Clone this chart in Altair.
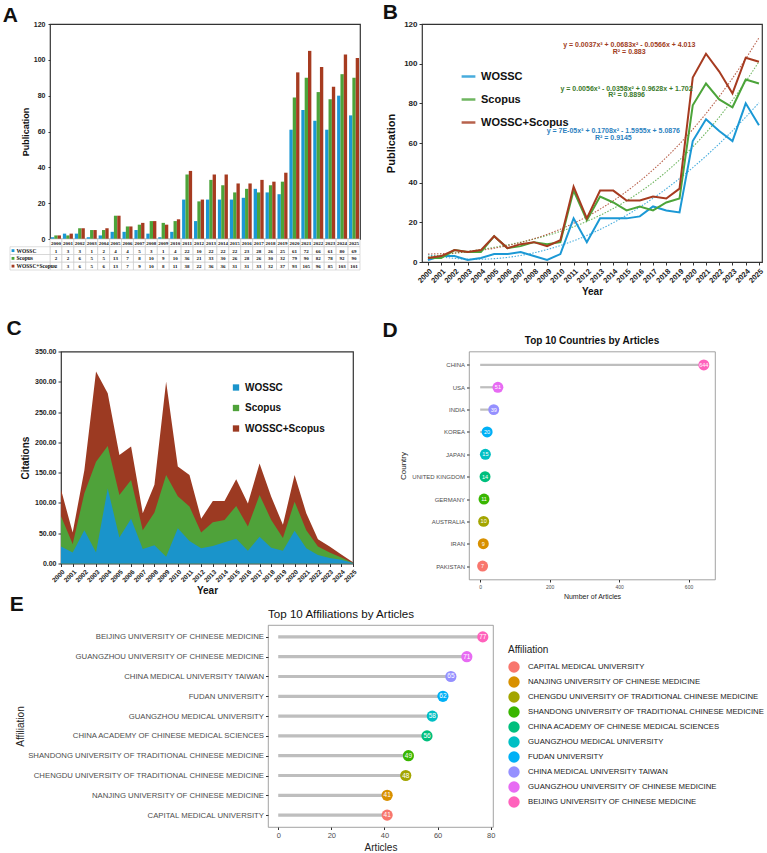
import altair as alt
import pandas as pd

FONT = "Liberation Sans"
SERIF = "Liberation Serif"

# ---------------- data ----------------
years = list(range(2000, 2026))
series_names = ["WOSSC", "Scopus", "WOSSC+Scopus"]
series_colors = ["#1b98d5", "#4ca43a", "#a63b20"]
area_colors = ["#1a94cb", "#4fa23a", "#9c3a22"]

pub_wossc = [1, 3, 3, 1, 2, 4, 4, 5, 3, 1, 4, 22, 10, 22, 22, 22, 23, 28, 26, 25, 61, 72, 66, 61, 80, 69]
pub_scopus = [2, 2, 6, 5, 5, 13, 7, 8, 10, 9, 10, 36, 21, 33, 30, 26, 28, 26, 30, 32, 79, 90, 82, 78, 92, 90]
pub_combined = [2, 3, 6, 5, 6, 13, 7, 9, 10, 8, 11, 38, 22, 36, 36, 31, 31, 33, 32, 37, 93, 105, 96, 85, 103, 101]

cit_wossc = [28, 18, 55, 18, 124, 43, 74, 24, 30, 11, 58, 37, 25, 29, 35, 41, 21, 44, 26, 21, 54, 25, 14, 9, 6, 1]
cit_scopus = [78, 32, 116, 168, 194, 113, 138, 55, 84, 146, 111, 94, 51, 68, 72, 95, 61, 113, 72, 42, 102, 55, 28, 18, 10, 1]
cit_combined = [122, 51, 154, 317, 281, 179, 193, 83, 130, 300, 160, 146, 74, 103, 103, 139, 99, 165, 110, 64, 146, 83, 40, 28, 15, 2]

countries = ["CHINA", "USA", "INDIA", "KOREA", "JAPAN", "UNITED KINGDOM",
             "GERMANY", "AUSTRALIA", "IRAN", "PAKISTAN"]
country_articles = [644, 51, 39, 20, 15, 14, 11, 10, 9, 7]

affiliations = ["BEIJING UNIVERSITY OF CHINESE MEDICINE",
                "GUANGZHOU UNIVERSITY OF CHINESE MEDICINE",
                "CHINA MEDICAL UNIVERSITY TAIWAN",
                "FUDAN UNIVERSITY",
                "GUANGZHOU MEDICAL UNIVERSITY",
                "CHINA ACADEMY OF CHINESE MEDICAL SCIENCES",
                "SHANDONG UNIVERSITY OF TRADITIONAL CHINESE MEDICINE",
                "CHENGDU UNIVERSITY OF TRADITIONAL CHINESE MEDICINE",
                "NANJING UNIVERSITY OF CHINESE MEDICINE",
                "CAPITAL MEDICAL UNIVERSITY"]
affiliation_articles = [77, 71, 65, 62, 58, 56, 49, 48, 41, 41]

# ggplot hue palette, from smallest to largest category
hue10 = ["#F8766D", "#D89000", "#A3A500", "#39B600", "#00BF7D",
         "#00BFC4", "#00B0F6", "#9590FF", "#E76BF3", "#FF62BC"]

eq_lines = ["y = 0.0037x³ + 0.0683x² - 0.0566x + 4.013", "R² = 0.883",
            "y = 0.0056x³ - 0.0358x² + 0.9628x + 1.702", "R² = 0.8896",
            "y = 7E-05x³ + 0.1708x² - 1.5955x + 5.0876", "R² = 0.9145"]
eq_year = [2015.2, 2015.2, 2015.0, 2015.0, 2014.0, 2014.0]
eq_value = [109.5, 105.8, 87.4, 84.2, 65.8, 62.4]
eq_colors = ["#a03c22", "#a03c22", "#3b7a2c", "#3b7a2c", "#2b7fc0", "#2b7fc0"]

# ---------------- tables ----------------
pub_rows = []
for s, vals in zip(series_names, [pub_wossc, pub_scopus, pub_combined]):
    for y, v in zip(years, vals):
        pub_rows.append({"year": y, "series": s, "value": v})
pub_df = pd.DataFrame(pub_rows)

cit_rows = []
for s, vals in zip(series_names, [cit_wossc, cit_scopus, cit_combined]):
    for y, v in zip(years, vals):
        cit_rows.append({"year": y, "series": s, "value": v})
cit_df = pd.DataFrame(cit_rows)

table_rows = ["year"] + series_names
tab = []
for i, y in enumerate(years):
    tab.append({"row": "year", "year": y, "txt": str(y)})
    for s, vals in zip(series_names, [pub_wossc, pub_scopus, pub_combined]):
        tab.append({"row": s, "year": y, "txt": str(vals[i])})
table_df = pd.DataFrame(tab)
key_df = pd.DataFrame({"row": series_names, "series": series_names})

country_df = pd.DataFrame({"country": countries, "articles": country_articles})
aff_df = pd.DataFrame({"affiliation": affiliations, "articles": affiliation_articles})
eq_df = pd.DataFrame({"year": eq_year, "value": eq_value, "txt": eq_lines, "c": eq_colors})


def letter(t, dx=0, dy=0):
    return alt.TitleParams(t, anchor="start", font=FONT, fontSize=21, fontWeight="bold",
                           color="#111111", dx=dx, dy=dy, offset=0)


def spacer(w):
    # invisible anchor that fixes where a row starts
    return alt.Chart(pd.DataFrame({"v": [0]})).mark_point(size=0, opacity=0).encode(
        x=alt.value(0), y=alt.value(0)).properties(
        width=w, height=1, view=alt.ViewBackground(fill="white", stroke=None))


# ---------------- panel A ----------------
color_A = alt.Scale(domain=series_names, range=series_colors)
barsA = alt.Chart(pub_df).mark_bar().encode(
    x=alt.X("year:O", axis=None, scale=alt.Scale(paddingInner=0.16, paddingOuter=0.08)),
    xOffset=alt.XOffset("series:N", sort=series_names, scale=alt.Scale(domain=series_names)),
    y=alt.Y("value:Q", scale=alt.Scale(domain=[0, 120], nice=False),
            axis=alt.Axis(values=list(range(0, 121, 20)), grid=False, domain=False,
                          tickSize=2, tickColor="#333", labelFont=FONT, labelFontWeight="bold",
                          labelFontSize=7, labelPadding=3, labelColor="#222",
                          title="Publication", titleFont=FONT, titleFontSize=9,
                          titleFontWeight="bold", titlePadding=3, titleColor="#111")),
    color=alt.Color("series:N", scale=color_A, legend=None),
).properties(width=310, height=215, view=alt.ViewBackground(stroke="#333", strokeWidth=1.2))

xT = alt.X("year:O", axis=None, scale=alt.Scale(paddingInner=0, paddingOuter=0))
yT = alt.Y("row:N", sort=table_rows, scale=alt.Scale(paddingInner=0, paddingOuter=0),
           axis=alt.Axis(title=None, domain=False, ticks=False, tickSize=0, labelAlign="left",
                         labelPadding=34, labelFont=SERIF, labelFontSize=5.5,
                         labelFontWeight="bold", labelColor="#111",
                         labelExpr="datum.value == 'year' ? '' : datum.value"))
cells = alt.Chart(table_df).mark_rect(fill="white", stroke="#c8c8c8", strokeWidth=0.6).encode(x=xT, y=yT)
cell_txt = alt.Chart(table_df).mark_text(font=SERIF, fontSize=5, fontWeight="bold", color="#111").encode(
    x=xT, y=yT, text="txt:N")
key_cells = alt.Chart(key_df).mark_rect(fill="white", stroke="#c8c8c8", strokeWidth=0.6).encode(
    x=alt.value(-40), x2=alt.value(0), y=yT)
key_sq = alt.Chart(key_df).mark_square(size=8, opacity=1).encode(
    x=alt.value(-37), y=yT, color=alt.Color("series:N", scale=color_A, legend=None))
tableA = alt.layer(cells, key_cells, cell_txt, key_sq).properties(
    width=310, height=31, view=alt.ViewBackground(stroke=None))

A = alt.vconcat(barsA, tableA, spacing=0, bounds="flush").properties(
    title=letter("A", dx=-7, dy=7)).resolve_scale(color="independent")

# ---------------- panel B ----------------
xB = alt.X("year:Q", scale=alt.Scale(domain=[1999.55, 2025.23], nice=False, zero=False),
           axis=alt.Axis(values=years, format="d", labelAngle=-45, labelFont=FONT,
                         labelFontWeight="bold", labelFontSize=7.5, labelColor="#222",
                         grid=False, domain=False, tickSize=3, tickColor="#333",
                         title="Year", titleFont=FONT, titleFontSize=10, titleFontWeight="bold",
                         titleColor="#111", titlePadding=2, labelOverlap=False))
yB = alt.Y("value:Q", scale=alt.Scale(domain=[0, 120], nice=False),
           axis=alt.Axis(values=list(range(0, 121, 20)), grid=False, domain=False, tickSize=3,
                         tickColor="#333", labelFont=FONT, labelFontWeight="bold", labelFontSize=8,
                         labelColor="#222", title="Publication", titleFont=FONT, titleFontSize=11,
                         titleFontWeight="bold", titleColor="#111", titlePadding=7))
color_B = alt.Scale(domain=series_names, range=series_colors)
trendB = alt.Chart(pub_df).transform_calculate(t="datum.year - 1999").transform_regression(
    "t", "value", method="poly", order=3, groupby=["series"]
).transform_calculate(year="datum.t + 1999").mark_line(
    strokeWidth=1.1, strokeDash=[1.5, 1.5], opacity=0.8).encode(
    x=xB, y=yB, color=alt.Color("series:N", scale=color_B))
linesB = alt.Chart(pub_df).mark_line(strokeWidth=2).encode(
    x=xB, y=yB,
    color=alt.Color("series:N", scale=color_B, sort=series_names,
                    legend=alt.Legend(orient="none", legendX=38, legendY=44, title=None,
                                      symbolType="stroke", symbolStrokeWidth=2.5, symbolSize=190,
                                      labelFont=FONT, labelFontSize=11, labelFontWeight="bold",
                                      labelColor="#111", rowPadding=9)))
eq_layers = []
for c in ["#a03c22", "#3b7a2c", "#2b7fc0"]:
    eq_layers.append(alt.Chart(eq_df).transform_filter(alt.datum.c == c).mark_text(
        font=FONT, fontSize=7, fontWeight="bold", color=c).encode(x=xB, y=yB, text="txt:N"))
B = alt.layer(trendB, linesB, *eq_layers).properties(
    width=340, height=238, title=letter("B", dx=-3, dy=2.5),
    view=alt.ViewBackground(stroke="#333", strokeWidth=1.2))

# ---------------- panel C ----------------
xC = alt.X("year:Q", scale=alt.Scale(domain=[2000, 2025], nice=False, zero=False),
           axis=alt.Axis(values=years, format="d", labelAngle=-45, labelFont=FONT,
                         labelFontWeight="bold", labelFontSize=6.5, labelColor="#222",
                         grid=False, domain=False, tickSize=3, tickColor="#333",
                         title="Year", titleFont=FONT, titleFontSize=10, titleFontWeight="bold",
                         titleColor="#111", titlePadding=2, labelOverlap=False))
yC = alt.Y("value:Q", stack=None, scale=alt.Scale(domain=[0, 350], nice=False),
           axis=alt.Axis(values=list(range(0, 351, 50)), format=".2f", grid=False, domain=False,
                         tickSize=3, tickColor="#333", labelFont=FONT, labelFontWeight="bold",
                         labelFontSize=7, labelColor="#222", title="Citations", titleFont=FONT,
                         titleFontSize=10, titleFontWeight="bold", titleColor="#111", titlePadding=4))
color_C = alt.Scale(domain=series_names, range=area_colors)
c_layers = []
for s in reversed(series_names):
    c_layers.append(alt.Chart(cit_df).transform_filter(alt.datum.series == s).mark_area(opacity=1).encode(
        x=xC, y=yC,
        color=alt.Color("series:N", scale=color_C,
                        legend=alt.Legend(orient="none", legendX=170, legendY=31, title=None,
                                          symbolType="square", symbolSize=40, labelFont=FONT,
                                          labelFontSize=10, labelFontWeight="bold", labelColor="#111",
                                          rowPadding=10.5))))
C = alt.layer(*c_layers).properties(
    width=292, height=212, title=letter("C", dx=-14, dy=-9),
    view=alt.ViewBackground(stroke="#333", strokeWidth=1.2))

# ---------------- panel D ----------------
colD = alt.Scale(domain=countries, range=list(reversed(hue10)))
yD = alt.Y("country:N", sort=countries, scale=alt.Scale(type="point", padding=0.6),
           axis=alt.Axis(title="Country", labelFont=FONT, labelFontSize=6, labelColor="#4d4d4d",
                         tickSize=2.5, tickColor="#333", domain=False, grid=False,
                         titleFont=FONT, titleFontSize=8, titleFontWeight="normal",
                         titleColor="#222", titlePadding=4))
xD = alt.X("articles:Q", scale=alt.Scale(domain=[-32.2, 676.2], nice=False, zero=False),
           axis=alt.Axis(values=[0, 200, 400, 600], grid=False, domain=False, tickSize=2.5,
                         tickColor="#333", labelFont=FONT, labelFontSize=5, labelColor="#4d4d4d",
                         title="Number of Articles", titleFont=FONT, titleFontSize=7,
                         titleFontWeight="normal", titleColor="#222", titlePadding=3))
ruleD = alt.Chart(country_df).mark_rule(color="#bebebe", strokeWidth=2.2).encode(
    y=yD, x=xD, x2=alt.datum(0))
dotD = alt.Chart(country_df).mark_circle(size=120, opacity=1).encode(
    y=yD, x=xD, color=alt.Color("country:N", scale=colD, legend=None))
txtD = alt.Chart(country_df).mark_text(font=FONT, fontSize=5.5, color="white").encode(
    y=yD, x=xD, text="articles:Q")
D_inner = alt.layer(ruleD, dotD, txtD).properties(
    width=246, height=228,
    title=alt.TitleParams("Top 10 Countries by Articles", font=FONT, fontSize=10,
                          fontWeight="bold", color="#111", anchor="middle", offset=6),
    view=alt.ViewBackground(stroke="#8a8a8a", strokeWidth=0.8))
D = alt.vconcat(D_inner).properties(title=letter("D", dx=-17, dy=6))

# ---------------- panel E ----------------
colE = alt.Scale(domain=list(reversed(affiliations)), range=hue10)
yE = alt.Y("affiliation:N", sort=affiliations, scale=alt.Scale(type="point", padding=0.6),
           axis=alt.Axis(title="Affiliation", labelFont=FONT, labelFontSize=7.75, labelColor="#4d4d4d",
                         labelLimit=400, maxExtent=400, tickSize=2.5, tickColor="#333",
                         domain=False, grid=False, titleFont=FONT, titleFontSize=10,
                         titleFontWeight="normal", titleColor="#222", titlePadding=2))
xE = alt.X("articles:Q", scale=alt.Scale(domain=[-3.85, 80.85], nice=False, zero=False),
           axis=alt.Axis(values=[0, 20, 40, 60, 80], grid=False, domain=False, tickSize=2.5,
                         tickColor="#333", labelFont=FONT, labelFontSize=7.5, labelColor="#4d4d4d",
                         title="Articles", titleFont=FONT, titleFontSize=10,
                         titleFontWeight="normal", titleColor="#222", titlePadding=3))
ruleE = alt.Chart(aff_df).mark_rule(color="#bebebe", strokeWidth=3.2).encode(
    y=yE, x=xE, x2=alt.datum(0))
dotE = alt.Chart(aff_df).mark_circle(size=125, opacity=1).encode(
    y=yE, x=xE,
    color=alt.Color("affiliation:N", scale=colE,
                    legend=alt.Legend(title="Affiliation", titleFont=FONT, titleFontSize=10,
                                      titleFontWeight="normal", titleColor="#222", titlePadding=6,
                                      labelFont=FONT, labelFontSize=7.75, labelColor="#222",
                                      labelLimit=400, labelOffset=8, symbolType="circle",
                                      symbolSize=130, symbolStrokeWidth=0, rowPadding=3,
                                      orient="none", legendX=240, legendY=20)))
txtE = alt.Chart(aff_df).mark_text(font=FONT, fontSize=6.5, color="white").encode(
    y=yE, x=xE, text="articles:Q")
E_inner = alt.layer(ruleE, dotE, txtE).properties(
    width=225, height=202,
    title=alt.TitleParams("Top 10 Affiliations by Articles", font=FONT, fontSize=11.6,
                          fontWeight="normal", color="#111", anchor="start", frame="group", offset=4),
    view=alt.ViewBackground(stroke="#8a8a8a", strokeWidth=0.8))
E = alt.vconcat(E_inner).properties(title=letter("E", dx=-5, dy=6))

# ---------------- layout ----------------
row1 = alt.hconcat(spacer(1), alt.hconcat(A, B, spacing=21).resolve_scale(color="independent"),
                   spacing=1).resolve_scale(color="independent")
row2 = alt.hconcat(spacer(4), alt.hconcat(C, D, spacing=23).resolve_scale(color="independent"),
                   spacing=1).resolve_scale(color="independent")
row3 = alt.hconcat(spacer(8), E, spacing=1).resolve_scale(color="independent")
top = alt.vconcat(row1, row2, spacing=19.5).resolve_scale(color="independent")
chart = alt.vconcat(top, row3, spacing=-6).resolve_scale(
    color="independent").properties(
    padding={"left": 0, "top": 0, "right": 0, "bottom": 0},
    background="white",
)

chart.save("out.html", embed_options={"renderer": "svg", "actions": False})
